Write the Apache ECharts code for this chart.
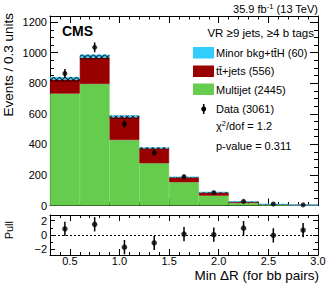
<!DOCTYPE html>
<html><head><meta charset="utf-8">
<script src="https://cdn.jsdelivr.net/npm/echarts@6/dist/echarts.min.js"></script>
<style>html,body{margin:0;padding:0;background:#fff}#c{width:332px;height:285px}</style>
</head><body><div id="c"></div>
<script>
// ---- data ----
const binCenters = [0.45, 0.75, 1.05, 1.35, 1.65, 1.95, 2.25, 2.55, 2.85];
const multijet   = [732, 795, 428, 276, 152, 64, 16, 5, 2];
const ttjets     = [92, 172, 149, 98, 32, 22, 9, 3, 1];
const minorBkg   = [17, 20, 12, 6, 3, 1, 1, 0, 0];
const hatchLow   = [808, 956, 566, 368, 181, 83, 24, 6, 2];   // lower edge of the hatched uncertainty band
const hatchHigh  = [841, 987, 589, 380, 187, 87, 26, 8, 3];   // upper edge of the hatched uncertainty band
const dataCounts = [864, 1035, 533, 345, 188, 84, 27, 10, 4];
const dataErr    = [29, 32, 23, 19, 14, 9, 5, 3, 2];
const pullValues = [0.86, 1.5, -1.7, -1.1, 0.13, 0.04, 0.96, -0.05, 0.68];
const pullErr    = [1, 1, 1, 1, 1, 1, 1, 1, 1];
const xTicks     = [0.5, 1.0, 1.5, 2.0, 2.5, 3.0];
const xMinorTicks= [0.4,0.6,0.7,0.8,0.9,1.1,1.2,1.3,1.4,1.6,1.7,1.8,1.9,2.1,2.2,2.3,2.4,2.6,2.7,2.8,2.9];
const yTicks     = [0, 200, 400, 600, 800, 1000, 1200];
const yMinorTicks= [50,100,150,250,300,350,450,500,550,650,700,750,850,900,950,1050,1100,1150];
const pullTicks  = [-2, 0, 2];
const pullMinor  = [-1, 1];

const FONT = "'Liberation Sans', Arial, Helvetica, sans-serif";
const C_MINOR = '#33ccff', C_TT = '#990000', C_MJ = '#66cc4d';

const hatchBand = hatchHigh.map((h, i) => h - hatchLow[i]);

function xAx(grid, pos, ticks, len, line, labels) {
  return {
    type: 'value', gridIndex: grid, min: 0.3, max: 3.0, position: pos,
    axisLine: { show: line, onZero: false, lineStyle: { color: '#000', width: 1 } },
    axisTick: { show: true, inside: true, length: len, customValues: ticks, lineStyle: { color: '#000', width: 1 } },
    axisLabel: labels ? { show: true, customValues: ticks, formatter: v => v.toFixed(1), color: '#000', fontSize: 11, fontFamily: FONT, margin: 0 } : { show: false },
    splitLine: { show: false }
  };
}
function yAx(grid, pos, min, max, ticks, len, line, labels) {
  return {
    type: 'value', gridIndex: grid, min: min, max: max, position: pos,
    axisLine: { show: line, onZero: false, lineStyle: { color: '#000', width: 1 } },
    axisTick: { show: true, inside: true, length: len, customValues: ticks, lineStyle: { color: '#000', width: 1 } },
    axisLabel: labels ? { show: true, customValues: ticks, formatter: v => (v < 0 ? '\u2212' + Math.abs(v) : String(v)), color: '#000', fontSize: 11, fontFamily: FONT, margin: 3 } : { show: false },
    splitLine: { show: false }
  };
}

function errBars(xi, yi, xs, ys, es, w) {
  return {
    type: 'custom', xAxisIndex: xi, yAxisIndex: yi, silent: true, z: 5,
    data: xs.map((x, i) => [x, ys[i], ys[i] - es[i], ys[i] + es[i]]),
    encode: { x: 0, y: [1, 2, 3] },
    renderItem: function (params, api) {
      const x = api.value(0);
      const p1 = api.coord([x, api.value(2)]);
      const p2 = api.coord([x, api.value(3)]);
      return { type: 'line', shape: { x1: p1[0], y1: p1[1], x2: p2[0], y2: p2[1] }, style: { stroke: '#000', lineWidth: w } };
    }
  };
}

function hatchDecal(rot) {
  return { symbol: 'rect', symbolSize: 1, color: 'rgba(0,0,0,0.8)', backgroundColor: 'rgba(0,0,0,0)', dashArrayX: [1, 0], dashArrayY: [0.8, 2.6], rotation: rot };
}

const barCommon = { type: 'bar', xAxisIndex: 0, yAxisIndex: 0, barCategoryGap: '0%', barGap: '-100%', silent: true };
function solid(c) { return { color: c, borderColor: c, borderWidth: 0.6 }; }

const option = {
  animation: false,
  backgroundColor: '#fff',
  grid: [
    { left: 50, top: 16, width: 268, height: 189.5 },
    { left: 50, top: 215, width: 268, height: 40 }
  ],
  xAxis: [
    { type: 'category', gridIndex: 0, data: binCenters.map(String), show: false, boundaryGap: true },
    xAx(0, 'bottom', xTicks, 7, true, false),
    xAx(0, 'bottom', xMinorTicks, 3.5, false, false),
    xAx(0, 'top', xTicks, 7, true, false),
    xAx(0, 'top', xMinorTicks, 3.5, false, false),
    xAx(1, 'bottom', xTicks, 6, true, true),
    xAx(1, 'bottom', xMinorTicks, 3, false, false),
    xAx(1, 'top', xTicks, 6, true, false),
    xAx(1, 'top', xMinorTicks, 3, false, false)
  ],
  yAxis: [
    yAx(0, 'left', 0, 1240, yTicks, 8, true, true),
    yAx(0, 'left', 0, 1240, yMinorTicks, 4, false, false),
    yAx(0, 'right', 0, 1240, yTicks, 8, true, false),
    yAx(0, 'right', 0, 1240, yMinorTicks, 4, false, false),
    yAx(1, 'left', -2.8, 2.8, pullTicks, 5, true, true),
    yAx(1, 'left', -2.8, 2.8, pullMinor, 3, false, false),
    yAx(1, 'right', -2.8, 2.8, pullTicks, 5, true, false),
    yAx(1, 'right', -2.8, 2.8, pullMinor, 3, false, false)
  ],
  series: [
    Object.assign({}, barCommon, { name: 'Multijet', stack: 'bkg', data: multijet, itemStyle: solid(C_MJ) }),
    Object.assign({}, barCommon, { name: 'ttjets', stack: 'bkg', data: ttjets, itemStyle: solid(C_TT) }),
    Object.assign({}, barCommon, { name: 'Minor', stack: 'bkg', data: minorBkg, itemStyle: solid(C_MINOR) }),
    Object.assign({}, barCommon, { name: 'u1b', stack: 'u1', data: hatchLow, itemStyle: { color: 'rgba(0,0,0,0)' } }),
    Object.assign({}, barCommon, { name: 'u1', stack: 'u1', data: hatchBand, itemStyle: { color: 'rgba(0,0,0,0)', decal: hatchDecal(Math.PI / 4) } }),
    Object.assign({}, barCommon, { name: 'u2b', stack: 'u2', data: hatchLow, itemStyle: { color: 'rgba(0,0,0,0)' } }),
    Object.assign({}, barCommon, { name: 'u2', stack: 'u2', data: hatchBand, itemStyle: { color: 'rgba(0,0,0,0)', decal: hatchDecal(-Math.PI / 4) } }),
    errBars(1, 0, binCenters, dataCounts, dataErr, 1.5),
    { type: 'scatter', xAxisIndex: 1, yAxisIndex: 0, symbol: 'circle', symbolSize: 5, itemStyle: { color: '#000' }, z: 6, silent: true,
      data: binCenters.map((x, i) => [x, dataCounts[i]]) },
    errBars(5, 4, binCenters, pullValues, pullErr, 1.5),
    { type: 'scatter', xAxisIndex: 5, yAxisIndex: 4, symbol: 'circle', symbolSize: 5.5, itemStyle: { color: '#000' }, z: 6, silent: true,
      data: binCenters.map((x, i) => [x, pullValues[i]]),
      markLine: { silent: true, symbol: 'none', label: { show: false }, lineStyle: { color: '#000', width: 1, type: [2, 2] }, data: [{ yAxis: 0 }] } }
  ],
  graphic: [
    { type: 'text', x: 62, y: 31, style: { text: 'CMS', font: 'bold 14px ' + FONT, fill: '#000', verticalAlign: 'middle' } },
    { type: 'text', x: 318, y: 9, style: { text: '{a|35.9 fb}{s|-1}{a| (13 TeV)}', align: 'right', verticalAlign: 'middle',
        rich: { a: { fontSize: 11, fontFamily: FONT, fill: '#000' }, s: { fontSize: 7.5, fontFamily: FONT, fill: '#000', padding: [0, 0, 6, 0] } } } },
    { type: 'text', x: 314, y: 33, style: { text: 'VR \u22659 jets, \u22654 b tags', font: '11.5px ' + FONT, fill: '#000', align: 'right', verticalAlign: 'middle' } },
    { type: 'rect', shape: { x: 193, y: 47, width: 21, height: 11.5 }, style: { fill: C_MINOR } },
    { type: 'rect', shape: { x: 193, y: 65.5, width: 21, height: 11.5 }, style: { fill: C_TT } },
    { type: 'rect', shape: { x: 193, y: 83.5, width: 21, height: 11.5 }, style: { fill: C_MJ } },
    { type: 'line', shape: { x1: 203.7, y1: 104, x2: 203.7, y2: 114 }, style: { stroke: '#000', lineWidth: 1.5 } },
    { type: 'circle', shape: { cx: 203.7, cy: 109, r: 2.5 }, style: { fill: '#000' } },
    { type: 'text', x: 216, y: 53, style: { text: 'Minor bkg+tt\u0304H (60)', font: '11px ' + FONT, fill: '#000', verticalAlign: 'middle' } },
    { type: 'text', x: 216, y: 71, style: { text: 'tt\u0304+jets (556)', font: '11px ' + FONT, fill: '#000', verticalAlign: 'middle' } },
    { type: 'text', x: 216, y: 89.5, style: { text: 'Multijet (2445)', font: '11px ' + FONT, fill: '#000', verticalAlign: 'middle' } },
    { type: 'text', x: 216, y: 109, style: { text: 'Data (3061)', font: '11px ' + FONT, fill: '#000', verticalAlign: 'middle' } },
    { type: 'text', x: 216, y: 126, style: { text: '{a|\u03c7}{s|2}{a|/dof = 1.2}', verticalAlign: 'middle',
        rich: { a: { fontSize: 11, fontFamily: FONT, fill: '#000' }, s: { fontSize: 7.5, fontFamily: FONT, fill: '#000', padding: [0, 0, 6, 0] } } } },
    { type: 'text', x: 216, y: 146, style: { text: 'p-value = 0.311', font: '11px ' + FONT, fill: '#000', verticalAlign: 'middle' } },
    { type: 'text', x: 8.5, y: 13, rotation: Math.PI / 2, style: { text: 'Events / 0.3 units', font: '13.5px ' + FONT, fill: '#000', align: 'right', verticalAlign: 'middle' } },
    { type: 'text', x: 9, y: 221, rotation: Math.PI / 2, style: { text: 'Pull', font: '11px ' + FONT, fill: '#000', align: 'right', verticalAlign: 'middle' } },
    { type: 'text', x: 319, y: 275, style: { text: 'Min \u0394R (for bb pairs)', font: '13.5px ' + FONT, fill: '#000', align: 'right', verticalAlign: 'middle' } }
  ]
};

const chart = echarts.init(document.getElementById('c'), null, { renderer: 'svg', width: 332, height: 285 });
chart.setOption(option);
</script>
</body></html>
